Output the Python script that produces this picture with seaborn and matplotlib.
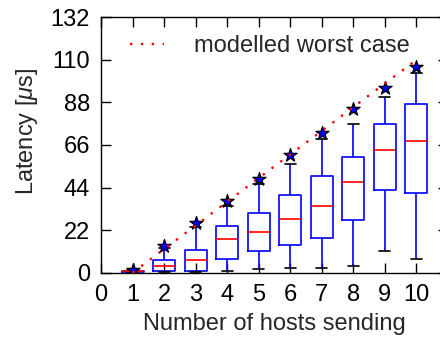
import numpy as np
import pandas as pd
import matplotlib
matplotlib.use("Agg")
import matplotlib.pyplot as plt
import seaborn as sns

# Latency distribution per number of sending hosts (microseconds)
hosts = [1, 2, 3, 4, 5, 6, 7, 8, 9, 10]
whisker_low = [0.2, 0.6, 0.6, 1.0, 2.1, 2.4, 2.3, 3.5, 11.2, 6.9]
q1 = [0.4, 0.9, 0.9, 6.9, 11.2, 14.5, 18.1, 27.4, 42.9, 41.3]
median = [0.7, 3.3, 6.4, 17.4, 21.2, 27.8, 34.6, 46.9, 63.2, 68.1]
q3 = [1.1, 6.4, 11.7, 24.1, 30.7, 40.0, 50.1, 60.0, 76.7, 87.3]
whisker_high = [1.4, 12.9, 23.8, 34.5, 45.8, 56.0, 68.9, 77.0, 91.0, 103.4]
measured_max = [1.3, 13.8, 25.5, 37.2, 48.4, 60.8, 72.4, 84.4, 95.3, 106.5]
model_worst = [0.0, 12.2, 24.4, 36.7, 48.9, 61.1, 73.3, 85.6, 97.8, 110.0]

y_ticks = [0, 22, 44, 66, 88, 110, 132]
x_ticks = [0, 1, 2, 3, 4, 5, 6, 7, 8, 9, 10]

sns.set_style("ticks")
plt.rcParams["font.family"] = ["Liberation Sans", "DejaVu Sans"]
plt.rcParams["mathtext.fontset"] = "custom"
plt.rcParams["mathtext.it"] = "Liberation Sans:italic"
plt.rcParams["mathtext.rm"] = "Liberation Sans"

FS = 17

# five summary points per group reproduce the box statistics exactly
rows = []
for h, lo, a, m, b, hi in zip(hosts, whisker_low, q1, median, q3, whisker_high):
    for v in (lo, a, m, b, hi):
        rows.append({"hosts": h, "latency": v})
box_df = pd.DataFrame(rows)
peak_df = pd.DataFrame({"hosts": hosts, "latency": measured_max})
model_df = pd.DataFrame({"hosts": hosts, "latency": model_worst})

fig = plt.figure(figsize=(4.4, 3.4), dpi=100)
ax = fig.add_axes([101 / 440, 67.3 / 340, 347 / 440, 255.4 / 340])

sns.boxplot(
    data=box_df, x="hosts", y="latency", native_scale=True, ax=ax,
    whis=(0, 100), width=0.7, fill=False, color="blue", linewidth=1.2,
    medianprops=dict(color="red", linewidth=1.2),
    capprops=dict(color="black", linewidth=1.2),
    whiskerprops=dict(color="blue", linewidth=1.2),
    boxprops=dict(color="blue", linewidth=1.2),
    showfliers=False,
)

sns.scatterplot(
    data=peak_df, x="hosts", y="latency", ax=ax, marker="*", s=100,
    color="blue", edgecolor="black", linewidth=0.9, zorder=4,
)

sns.lineplot(
    data=model_df, x="hosts", y="latency", ax=ax, color="red",
    linewidth=1.7, dashes=False, zorder=5, label="modelled worst case",
)
ax.lines[-1].set_linestyle((0, (1, 3.6)))

ax.set_xlim(0, 11)
ax.set_ylim(0, 132)
ax.set_xticks(x_ticks)
ax.set_xticklabels([str(t) for t in x_ticks])
ax.set_yticks(y_ticks)
ax.tick_params(direction="in", length=7, width=1, top=True, right=True,
               pad=8, labelsize=FS, colors="black")
for s in ax.spines.values():
    s.set_linewidth(1.0)
    s.set_color("black")

ax.set_xlabel("Number of hosts sending", fontsize=FS, labelpad=5)
ax.set_ylabel(r"Latency [$\mu$s]", fontsize=FS)
ax.yaxis.set_label_coords(-0.175, 0.555)

leg = ax.legend(loc="upper left", bbox_to_anchor=(0.0836, 0.93),
                frameon=False, fontsize=FS, handlelength=1.45,
                handletextpad=1.25, borderaxespad=0, borderpad=0)

fig.savefig("out.png", dpi=100)
